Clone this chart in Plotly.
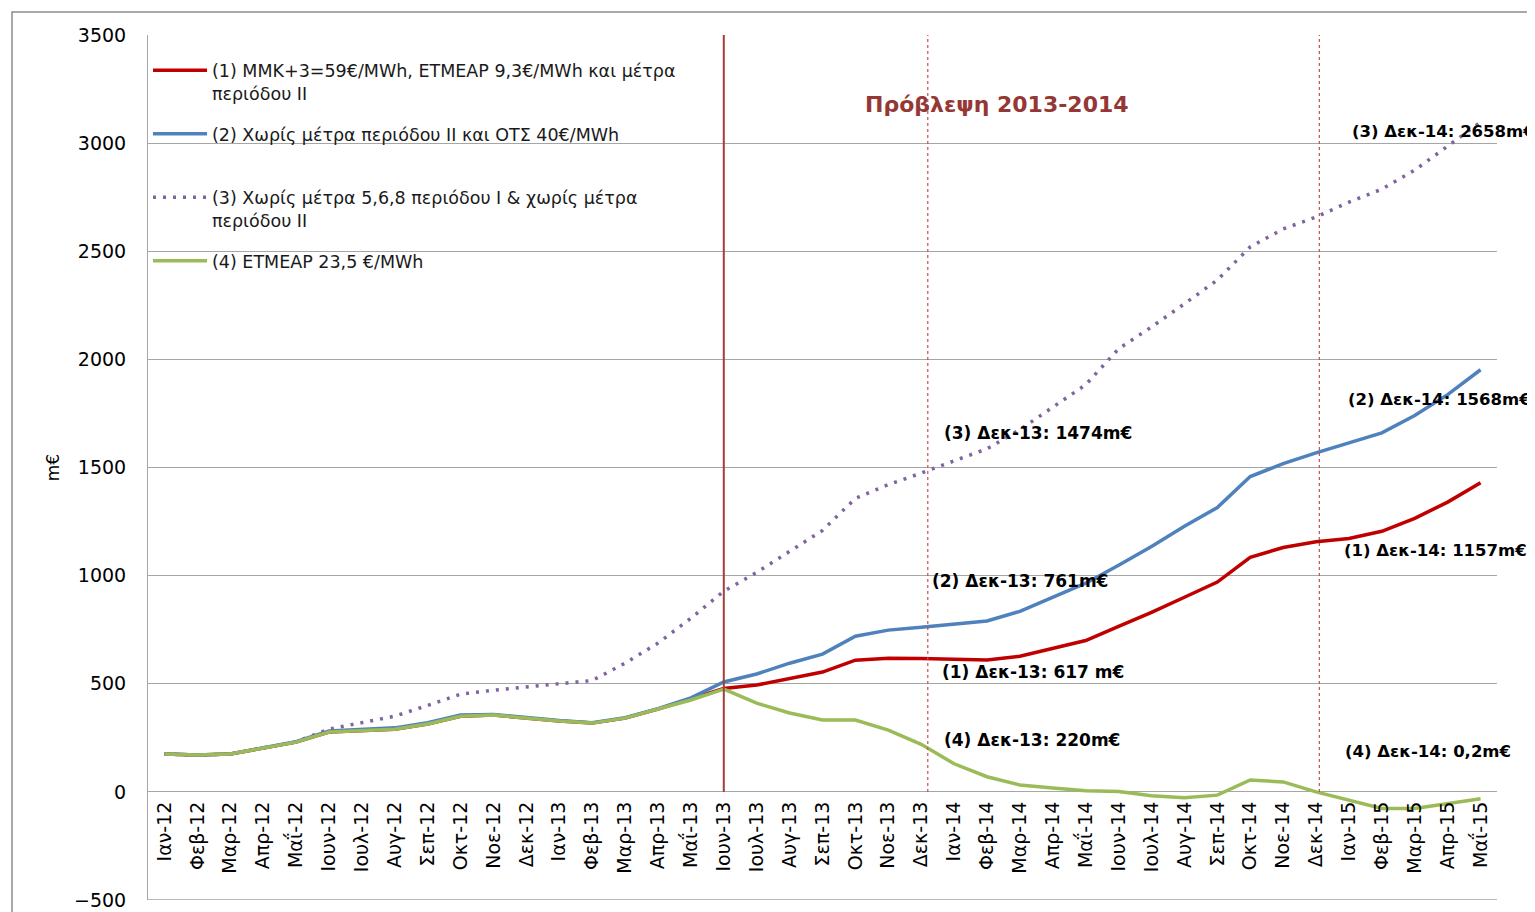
import plotly.graph_objects as go

# month labels, Ιαν-12 .. Μαΐ-15
mnames = ['Ιαν', 'Φεβ', 'Μαρ', 'Απρ', 'Μαΐ', 'Ιουν', 'Ιουλ', 'Αυγ', 'Σεπ', 'Οκτ', 'Νοε', 'Δεκ']
months = [m + '-' + y for y in ['12', '13', '14'] for m in mnames] + [m + '-15' for m in mnames[:5]]

# (1) red
s1 = [175, 170, 175, 203, 230, 277, 282, 290, 314, 350, 355, 341, 328, 318, 341, 383, 430,
      478, 494, 526, 554, 609, 618, 617, 612, 610, 627, 665, 700, 765, 830, 900, 970,
      1085, 1130, 1157, 1172, 1205, 1265, 1340, 1430]
# (2) blue
s2 = [175, 170, 175, 203, 232, 282, 288, 296, 320, 355, 358, 343, 330, 320, 343, 385, 435,
      508, 545, 595, 637, 720, 748, 761, 775, 790, 835, 900, 965, 1048, 1135, 1228, 1315,
      1458, 1518, 1568, 1615, 1660, 1740, 1837, 1952]
# (3) purple dotted
s3 = [175, 170, 175, 203, 232, 290, 318, 350, 400, 452, 470, 485,
      498, 515, 595, 688, 803, 928, 1015, 1112, 1209, 1357, 1421, 1474,
      1532, 1587, 1675, 1781, 1883, 2049, 2150, 2257, 2367, 2520, 2603, 2658,
      2727, 2787, 2875, 2986, 3097]
# (4) green
s4 = [175, 170, 175, 203, 230, 277, 282, 290, 314, 350, 355, 341, 328, 318, 341, 383, 425,
      475, 410, 365, 332, 332, 286, 220, 130, 70, 32, 18, 5, 2, -18, -27, -15, 55, 46, 0.2,
      -40, -77, -77, -55, -32]

names = ['(1) ΜΜΚ+3=59€/MWh, ΕΤΜΕΑΡ 9,3€/MWh και μέτρα<br>περιόδου ΙΙ',
         '(2) Χωρίς μέτρα περιόδου ΙΙ και ΟΤΣ 40€/MWh<br> ',
         '(3) Χωρίς μέτρα 5,6,8 περιόδου Ι & χωρίς μέτρα<br>περιόδου ΙΙ',
         '(4) ΕΤΜΕΑΡ 23,5 €/MWh<br> ']
colors = ['#C00000', '#4F81BD', '#8064A2', '#9BBB59']

fig = go.Figure()
for i, s in enumerate([s1, s2, s3, s4]):
    dash = '3px,7px' if i == 2 else 'solid'
    fig.add_trace(go.Scatter(x=months, y=s, mode='lines', name=names[i], legendgroup=str(i),
                             line=dict(color=colors[i], width=3.5, dash=dash)))

font = 'DejaVu Sans'
grid = '#A6A6A6'

# page body has an 8px margin, so the figure is a bit smaller than the window
fig.update_layout(
    xaxis=dict(
        type='category',
        range=[-0.5, len(months) - 0.5],
        anchor='free',
        position=0.125,
        showgrid=False,
        showline=False,
        tickangle=-90,
        ticks='',
        ticklabelstandoff=5,
        tickfont=dict(family=font, size=19, color='black'),
    ),
    yaxis=dict(
        range=[-500, 3500],
        dtick=500,
        showgrid=True,
        gridcolor=grid,
        gridwidth=1,
        zeroline=False,
        showline=True,
        linecolor=grid,
        ticks='',
        ticklabelstandoff=17,
        tickfont=dict(family=font, size=19, color='black'),
        title=dict(text='m€', font=dict(family=font, size=17, color='black'), standoff=10),
    ),
    autosize=False,
    width=1527,
    height=904,
    margin=dict(l=140, r=38, t=27, b=12, autoexpand=False),
    plot_bgcolor='white',
    paper_bgcolor='white',
    showlegend=True,
    legend=dict(x=0.0, y=0.98, xanchor='left', yanchor='top', bgcolor='rgba(0,0,0,0)',
                valign='top', tracegroupgap=15, itemwidth=54,
                font=dict(family=font, size=17.5, color='#1a1a1a')),
)

shapes = []
# outer chart border
shapes.append(dict(type='rect', xref='paper', yref='paper', x0=-0.1008, x1=1.06, y0=-0.03, y1=1.0266,
                   line=dict(color='#8C8C8C', width=1.5)))
# bottom border of plot area
shapes.append(dict(type='line', xref='paper', yref='y', x0=0, x1=1, y0=-500, y1=-500,
                   line=dict(color=grid, width=1.5)))
# forecast start
shapes.append(dict(type='line', xref='x', yref='y', x0='Ιουν-13', x1='Ιουν-13', y0=0, y1=3500,
                   line=dict(color='#A0403A', width=2)))
for m in [23.2, 35.1]:  # just past Δεκ-13 and Δεκ-14
    shapes.append(dict(type='line', xref='x', yref='y', x0=m, x1=m, y0=0, y1=3500,
                       line=dict(color='#C0504D', width=1.2, dash='dot')))
fig.update_layout(shapes=shapes)

annotations = []
annotations.append(dict(xref='x', yref='y', x=25.3, y=3180, text='<b>Πρόβλεψη 2013-2014</b>',
                        xanchor='center', yanchor='middle', showarrow=False,
                        font=dict(family=font, size=22, color='#953735')))
labels = [('(3) Δεκ-14: 2658m€', 36.02, 3055, 16.5),
          ('(2) Δεκ-14: 1568m€', 35.92, 1815, 16.5),
          ('(1) Δεκ-14: 1157m€', 35.78, 1117, 16.5),
          ('(4) Δεκ-14: 0,2m€', 35.82, 189, 16.5),
          ('(3) Δεκ-13: 1474m€', 23.62, 1661, 17),
          ('(2) Δεκ-13: 761m€', 23.28, 974, 17),
          ('(1) Δεκ-13: 617 m€', 23.57, 554, 17),
          ('(4) Δεκ-13: 220m€', 23.62, 240, 17)]
for t, x, y, fs in labels:
    annotations.append(dict(xref='x', yref='y', x=x, y=y, text='<b>' + t + '</b>',
                            xanchor='left', yanchor='middle', showarrow=False,
                            font=dict(family=font, size=fs, color='black')))
fig.update_layout(annotations=annotations)

fig.write_html('out.html')
